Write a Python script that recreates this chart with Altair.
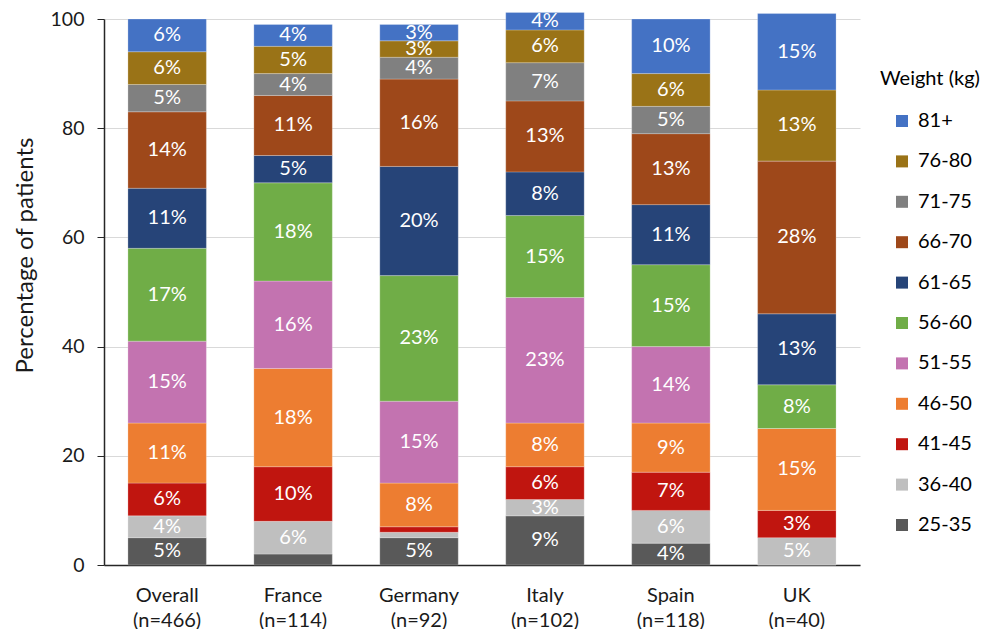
import altair as alt
import pandas as pd

countries = ["Overall", "France", "Germany", "Italy", "Spain", "UK"]
country_labels = ["Overall|(n=466)", "France|(n=114)", "Germany|(n=92)",
                  "Italy|(n=102)", "Spain|(n=118)", "UK|(n=40)"]

# weight groups, bottom of the stack first
groups = ["25-35", "36-40", "41-45", "46-50", "51-55", "56-60",
          "61-65", "66-70", "71-75", "76-80", "81+"]

# segment heights (percent) as drawn
overall = [5, 4, 6, 11, 15, 17, 11, 14, 5, 6, 6]
france = [2, 6, 10, 18, 16, 18, 5, 11, 4, 5, 4]
germany = [5, 1, 1, 8, 15, 23, 20, 16, 4, 3, 3]
italy = [9, 3, 6, 8, 23, 15, 8, 13, 7, 6, 3.2]
spain = [4, 6, 7, 9, 14, 15, 11, 13, 5, 6, 10]
uk = [0, 5, 5, 15, 0, 8, 13, 28, 0, 13, 14]

# data labels shown on the segments (0 = no label)
overall_lbl = [5, 4, 6, 11, 15, 17, 11, 14, 5, 6, 6]
france_lbl = [0, 6, 10, 18, 16, 18, 5, 11, 4, 5, 4]
germany_lbl = [5, 0, 0, 8, 15, 23, 20, 16, 4, 3, 3]
italy_lbl = [9, 3, 6, 8, 23, 15, 8, 13, 7, 6, 4]
spain_lbl = [4, 6, 7, 9, 14, 15, 11, 13, 5, 6, 10]
uk_lbl = [0, 5, 3, 15, 0, 8, 13, 28, 0, 13, 15]

colors = ["#595959", "#BFBFBF", "#C0150F", "#ED7D31", "#C373B0", "#70AD47",
          "#264478", "#9E481A", "#808080", "#9A7317", "#4472C4"]

series = [overall, france, germany, italy, spain, uk]
label_series = [overall_lbl, france_lbl, germany_lbl, italy_lbl, spain_lbl, uk_lbl]

rows = []
for c, cl, vals, lbls in zip(countries, country_labels, series, label_series):
    for i, (g, v, l) in enumerate(zip(groups, vals, lbls)):
        rows.append({"country": cl, "group": g, "order": i, "value": v, "label": l})
df = pd.DataFrame(rows)

legend_order = groups[::-1]
legend_colors = colors[::-1]

FONT = "Lato"
TXT = "#1a1a1a"

x_enc = alt.X(
    "country:N", sort=country_labels, title=None,
    scale=alt.Scale(paddingInner=0.377, paddingOuter=0.19),
    axis=alt.Axis(labelExpr="split(datum.label, '|')", labelAngle=0,
                  labelFontSize=20, labelColor=TXT, labelFont=FONT,
                  labelPadding=20, labelLineHeight=25, ticks=False,
                  domainColor="#262626", domainWidth=1.5, grid=False),
)

base = alt.Chart(df).transform_stack(
    stack="value", groupby=["country"],
    sort=[alt.SortField("order", order="ascending")], as_=["y0", "y1"]
)

bars = base.mark_bar(stroke="#ffffff", strokeWidth=0.4, strokeOpacity=0.6).encode(
    x=x_enc,
    y=alt.Y("y0:Q", scale=alt.Scale(domain=[0, 100], nice=False),
            title="Percentage of patients",
            axis=alt.Axis(values=[0, 20, 40, 60, 80, 100], grid=True,
                          gridColor="#D9D9D9", gridWidth=1,
                          tickSize=7, tickColor="#262626", domainColor="#262626",
                          domainWidth=1.5, labelFontSize=19.5, labelColor=TXT,
                          labelFont=FONT, labelPadding=13, titleFontSize=24,
                          titleFont=FONT, titleColor=TXT, titleFontWeight="normal",
                          titlePadding=13, titleY=236)),
    y2="y1:Q",
    color=alt.Color("group:N", scale=alt.Scale(domain=legend_order, range=legend_colors),
                    legend=alt.Legend(title="Weight (kg)", orient="none",
                                      legendX=776, legendY=50,
                                      titleFontSize=20, titleFont=FONT,
                                      titleFontWeight="normal", titleColor="#000000",
                                      titlePadding=22,
                                      labelFontSize=20, labelFont=FONT, labelColor="#000000",
                                      symbolType="square", symbolSize=144,
                                      symbolStrokeWidth=0, symbolOffset=12,
                                      labelOffset=6, rowPadding=20.4)),
    order=alt.Order("order:Q", sort="ascending"),
)

text = base.transform_filter("datum.label > 0").transform_calculate(
    mid="(datum.y0 + datum.y1) / 2", txt="datum.label + '%'"
).mark_text(color="#ffffff", fontSize=20, font=FONT, baseline="middle").encode(
    x=x_enc,
    y=alt.Y("mid:Q"),
    text="txt:N",
)

chart = alt.layer(bars, text).properties(
    width=756, height=546,
    autosize=alt.AutoSizeParams(type="none"),
    padding={"left": 96, "top": 11, "right": 121, "bottom": 64},
).configure_view(stroke=None)

chart.save("out.html", embed_options={"renderer": "svg", "actions": False})
